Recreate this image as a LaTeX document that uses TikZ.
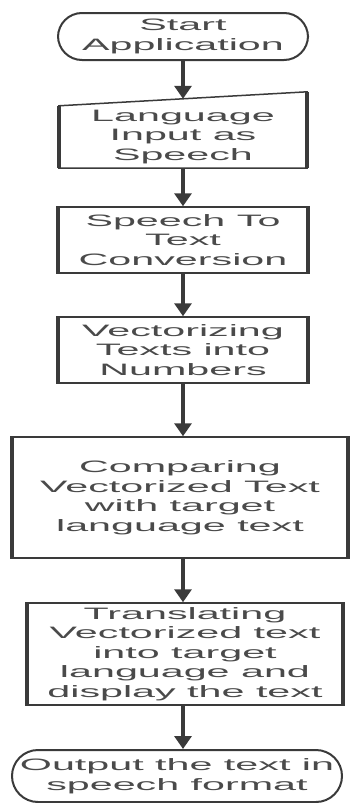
\documentclass[tikz,border=0pt]{standalone}
\usepackage{fontspec}
\usepackage{xcolor}
\usetikzlibrary{calc, arrows.meta}
\newfontfamily\flowfont{Liberation Sans}[FakeStretch=2.5]
\definecolor{linegray}{HTML}{3A3A3A}
\definecolor{textgray}{HTML}{4A4A4A}
\tikzset{
	boxtext/.style={align=center, inner sep=0pt, text=textgray, font=\flowfont\fontsize{16.5}{19.5}\selectfont},
	thickside/.style={draw=linegray, line width=3.6pt},
	procbox/.style={boxtext, draw=linegray, line width=1.5pt, fill=white,
		append after command={(\tikzlastnode.north west) edge[thickside] (\tikzlastnode.south west)
			(\tikzlastnode.north east) edge[thickside] (\tikzlastnode.south east)}},
	terminal/.style={boxtext, draw=linegray, line width=2pt, fill=white, rounded corners=24pt},
	flow/.style={draw=linegray, line width=4.5pt, -{Triangle[width=17pt, length=13pt]}}
}

\begin{document}
\begin{tikzpicture}[x=1pt, y=1pt]
		\useasboundingbox (0,0) rectangle (350,-803);
		
		\node(start) [terminal, minimum width=250pt, minimum height=47pt] at (183,-36.5) {Start\\Application};
		
		\node(input) [boxtext, minimum width=248pt, minimum height=62pt] at (183,-137) {Language\\Input as\\Speech};
		\draw[draw=linegray, line width=1.5pt] (input.south west) -- (input.south east) -- ([yshift=14pt]input.north east) -- (input.north west) -- cycle;
		\draw[thickside] (input.north west) -- (input.south west) ([yshift=14pt]input.north east) -- (input.south east);
		
		\node(conv) [procbox, minimum width=248pt, minimum height=66pt] at (183,-240) {Speech To\\Text\\Conversion};
		\node(vec) [procbox, minimum width=248pt, minimum height=66pt] at (183,-350) {Vectorizing\\Texts into\\Numbers};
		\node(comp) [procbox, minimum width=334pt, minimum height=121pt] at (180,-497.5) {Comparing\\Vectorized Text\\with target\\language text};
		\node(trans) [procbox, minimum width=314pt, minimum height=102pt] at (185,-654) {Translating\\Vectorized text\\into target\\language and\\display the text};
		
		\node(out) [terminal, minimum width=330pt, minimum height=52pt, rounded corners=26pt] at (177,-776) {Output the text in\\speech format};
		
		\draw[flow] (start.south) -- ([yshift=7pt]input.north);
		\draw[flow] (input.south) -- (input.south |- conv.north);
		\draw[flow] (conv.south) -- (conv.south |- vec.north);
		\draw[flow] (vec.south) -- (vec.south |- comp.north);
		\draw[flow] (vec.south |- comp.south) -- (vec.south |- trans.north);
		\draw[flow] (vec.south |- trans.south) -- (vec.south |- out.north);
		
		\end{tikzpicture}
\end{document}
